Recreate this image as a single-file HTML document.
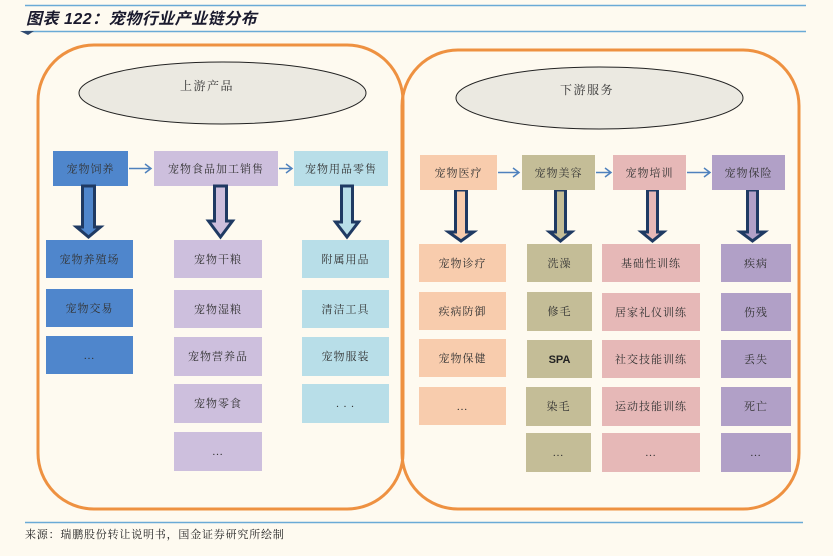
<!DOCTYPE html>
<html><head><meta charset="utf-8"><style>
html,body{margin:0;padding:0;background:#FEFAF0;}
svg{display:block;}
.t{font-family:"Liberation Serif","Noto Serif CJK SC",serif;font-size:11px;fill:#333;letter-spacing:1px;}
</style></head><body>
<svg width="833" height="556" viewBox="0 0 833 556" xmlns="http://www.w3.org/2000/svg">
<rect width="833" height="556" fill="#FEFAF0"/>
<!-- header -->
<line x1="25" y1="5.5" x2="806" y2="5.5" stroke="#6AAAD6" stroke-width="1.5"/>
<text x="26" y="24" style="font-family:'Liberation Sans','Noto Sans CJK SC',sans-serif;font-size:16px;font-weight:bold;font-style:italic;letter-spacing:0.5px;fill:#1a1a2e">图表 122：宠物行业产业链分布</text>
<line x1="25" y1="31.5" x2="806" y2="31.5" stroke="#6AAAD6" stroke-width="1.5"/>
<polygon points="20,31 34,31 28,35" fill="#2F4A70"/>

<!-- outer rounded containers -->
<rect x="38" y="45" width="365" height="464" rx="56" ry="56" fill="none" stroke="#EE9141" stroke-width="3"/>
<rect x="402" y="50" width="397" height="459" rx="56" ry="56" fill="none" stroke="#EE9141" stroke-width="3"/>

<!-- ellipses -->
<ellipse cx="222.5" cy="93" rx="143.5" ry="31" fill="#EBE9E1" stroke="#222" stroke-width="1"/>
<text x="207" y="90" text-anchor="middle" class="t" style="font-size:12px;letter-spacing:1.5px">上游产品</text>
<ellipse cx="599.5" cy="98" rx="143.5" ry="31" fill="#EBE9E1" stroke="#222" stroke-width="1"/>
<text x="587" y="94" text-anchor="middle" class="t" style="font-size:12px;letter-spacing:1.5px">下游服务</text>

<!-- upstream top row -->
<rect x="53" y="151" width="75" height="35" fill="#4F86CC"/>
<text x="90.5" y="172.5" text-anchor="middle" class="t">宠物饲养</text>
<rect x="154" y="151" width="124" height="35" fill="#CDBFDD"/>
<text x="216" y="172.5" text-anchor="middle" class="t">宠物食品加工销售</text>
<rect x="294" y="151" width="94" height="35" fill="#B8DEE8"/>
<text x="341" y="172.5" text-anchor="middle" class="t">宠物用品零售</text>

<g stroke="#4F81BD" stroke-width="1.5" fill="none">
<line x1="129" y1="168.5" x2="151" y2="168.5"/><polyline points="145,164 151,168.5 145,173"/>
<line x1="279" y1="168.5" x2="292" y2="168.5"/><polyline points="286,164 292,168.5 286,173"/>
<line x1="498" y1="172.5" x2="519" y2="172.5"/><polyline points="513,168 519,172.5 513,177"/>
<line x1="596" y1="172.5" x2="611" y2="172.5"/><polyline points="605,168 611,172.5 605,177"/>
<line x1="687" y1="172.5" x2="710" y2="172.5"/><polyline points="704,168 710,172.5 704,177"/>
</g>

<!-- hollow arrows -->
<g stroke="#1F3A63" stroke-width="3" stroke-linejoin="miter">
<polygon points="82.5,186 94.5,186 94.5,227 100.5,227 88.5,237 76.5,227 82.5,227" fill="#4F86CC"/>
<polygon points="214.5,186 226.5,186 226.5,221 232.5,221 220.5,237 208.5,221 214.5,221" fill="#CDBFDD"/>
<polygon points="341.5,186 352.5,186 352.5,222 358.5,222 347,237 335.5,222 341.5,222" fill="#B8DEE8"/>
<polygon points="455.5,190 466.5,190 466.5,232 473.5,232 461,241 448.5,232 455.5,232" fill="#F8CCAD"/>
<polygon points="555.5,190 565.5,190 565.5,232 571.5,232 560.5,241 549.5,232 555.5,232" fill="#C4BD97"/>
<polygon points="647.5,190 657.5,190 657.5,232 663.5,232 652.5,241 641.5,232 647.5,232" fill="#E6B8B7"/>
<polygon points="747.5,190 757.5,190 757.5,232 764.5,232 752.5,241 740.5,232 747.5,232" fill="#B1A0C7"/>
</g>

<!-- upstream columns -->
<rect x="46" y="240" width="87" height="38" fill="#4F86CC"/>
<text x="89.5" y="263" text-anchor="middle" class="t">宠物养殖场</text>
<rect x="46" y="289" width="87" height="38" fill="#4F86CC"/>
<text x="89.5" y="312" text-anchor="middle" class="t">宠物交易</text>
<rect x="46" y="336" width="87" height="38" fill="#4F86CC"/>
<text x="89.5" y="359" text-anchor="middle" class="t">…</text>

<rect x="174" y="240" width="88" height="38" fill="#CDBFDD"/>
<text x="218" y="263" text-anchor="middle" class="t">宠物干粮</text>
<rect x="174" y="290" width="88" height="38" fill="#CDBFDD"/>
<text x="218" y="313" text-anchor="middle" class="t">宠物湿粮</text>
<rect x="174" y="337" width="88" height="39" fill="#CDBFDD"/>
<text x="218" y="360" text-anchor="middle" class="t">宠物营养品</text>
<rect x="174" y="384" width="88" height="39" fill="#CDBFDD"/>
<text x="218" y="407" text-anchor="middle" class="t">宠物零食</text>
<rect x="174" y="432" width="88" height="39" fill="#CDBFDD"/>
<text x="218" y="455" text-anchor="middle" class="t">…</text>

<rect x="302" y="240" width="87" height="38" fill="#B8DEE8"/>
<text x="345.5" y="263" text-anchor="middle" class="t">附属用品</text>
<rect x="302" y="290" width="87" height="38" fill="#B8DEE8"/>
<text x="345.5" y="313" text-anchor="middle" class="t">清洁工具</text>
<rect x="302" y="337" width="87" height="39" fill="#B8DEE8"/>
<text x="345.5" y="360" text-anchor="middle" class="t">宠物服装</text>
<rect x="302" y="384" width="87" height="39" fill="#B8DEE8"/>
<text x="345.5" y="407" text-anchor="middle" class="t">. . .</text>

<!-- downstream top row -->
<rect x="420" y="155" width="77" height="35" fill="#F8CCAD"/>
<text x="458.5" y="176.5" text-anchor="middle" class="t">宠物医疗</text>
<rect x="522" y="155" width="73" height="35" fill="#C4BD97"/>
<text x="558.5" y="176.5" text-anchor="middle" class="t">宠物美容</text>
<rect x="613" y="155" width="73" height="35" fill="#E6B8B7"/>
<text x="649.5" y="176.5" text-anchor="middle" class="t">宠物培训</text>
<rect x="712" y="155" width="73" height="35" fill="#B1A0C7"/>
<text x="748.5" y="176.5" text-anchor="middle" class="t">宠物保险</text>

<!-- downstream columns -->
<rect x="419" y="244" width="87" height="38" fill="#F8CCAD"/>
<text x="462.5" y="267" text-anchor="middle" class="t">宠物诊疗</text>
<rect x="419" y="292" width="87" height="38" fill="#F8CCAD"/>
<text x="462.5" y="315" text-anchor="middle" class="t">疾病防御</text>
<rect x="419" y="339" width="87" height="38" fill="#F8CCAD"/>
<text x="462.5" y="362" text-anchor="middle" class="t">宠物保健</text>
<rect x="419" y="387" width="87" height="38" fill="#F8CCAD"/>
<text x="462.5" y="410" text-anchor="middle" class="t">…</text>

<rect x="527" y="244" width="65" height="38" fill="#C4BD97"/>
<text x="559.5" y="267" text-anchor="middle" class="t">洗澡</text>
<rect x="527" y="292" width="65" height="39" fill="#C4BD97"/>
<text x="559.5" y="315" text-anchor="middle" class="t">修毛</text>
<rect x="527" y="340" width="65" height="38" fill="#C4BD97"/>
<text x="559.5" y="363" text-anchor="middle" style="font-family:'Liberation Sans',sans-serif;font-size:11px;fill:#222;font-weight:bold">SPA</text>
<rect x="526" y="387" width="65" height="39" fill="#C4BD97"/>
<text x="558.5" y="410" text-anchor="middle" class="t">染毛</text>
<rect x="526" y="433" width="65" height="39" fill="#C4BD97"/>
<text x="558.5" y="456" text-anchor="middle" class="t">…</text>

<rect x="602" y="244" width="98" height="38" fill="#E6B8B7"/>
<text x="651" y="267" text-anchor="middle" class="t">基础性训练</text>
<rect x="602" y="293" width="98" height="38" fill="#E6B8B7"/>
<text x="651" y="316" text-anchor="middle" class="t">居家礼仪训练</text>
<rect x="602" y="340" width="98" height="38" fill="#E6B8B7"/>
<text x="651" y="363" text-anchor="middle" class="t">社交技能训练</text>
<rect x="602" y="387" width="98" height="39" fill="#E6B8B7"/>
<text x="651" y="410" text-anchor="middle" class="t">运动技能训练</text>
<rect x="602" y="433" width="98" height="39" fill="#E6B8B7"/>
<text x="651" y="456" text-anchor="middle" class="t">…</text>

<rect x="721" y="244" width="70" height="38" fill="#B1A0C7"/>
<text x="756" y="267" text-anchor="middle" class="t">疾病</text>
<rect x="721" y="293" width="70" height="38" fill="#B1A0C7"/>
<text x="756" y="316" text-anchor="middle" class="t">伤残</text>
<rect x="721" y="340" width="70" height="38" fill="#B1A0C7"/>
<text x="756" y="363" text-anchor="middle" class="t">丢失</text>
<rect x="721" y="387" width="70" height="39" fill="#B1A0C7"/>
<text x="756" y="410" text-anchor="middle" class="t">死亡</text>
<rect x="721" y="433" width="70" height="39" fill="#B1A0C7"/>
<text x="756" y="456" text-anchor="middle" class="t">…</text>

<!-- footer -->
<line x1="25" y1="522.5" x2="803" y2="522.5" stroke="#6AAAD6" stroke-width="1.5"/>
<text x="25" y="538" class="t" style="fill:#222;letter-spacing:0.8px">来源：瑞鹏股份转让说明书，国金证券研究所绘制</text>
</svg>
</body></html>
